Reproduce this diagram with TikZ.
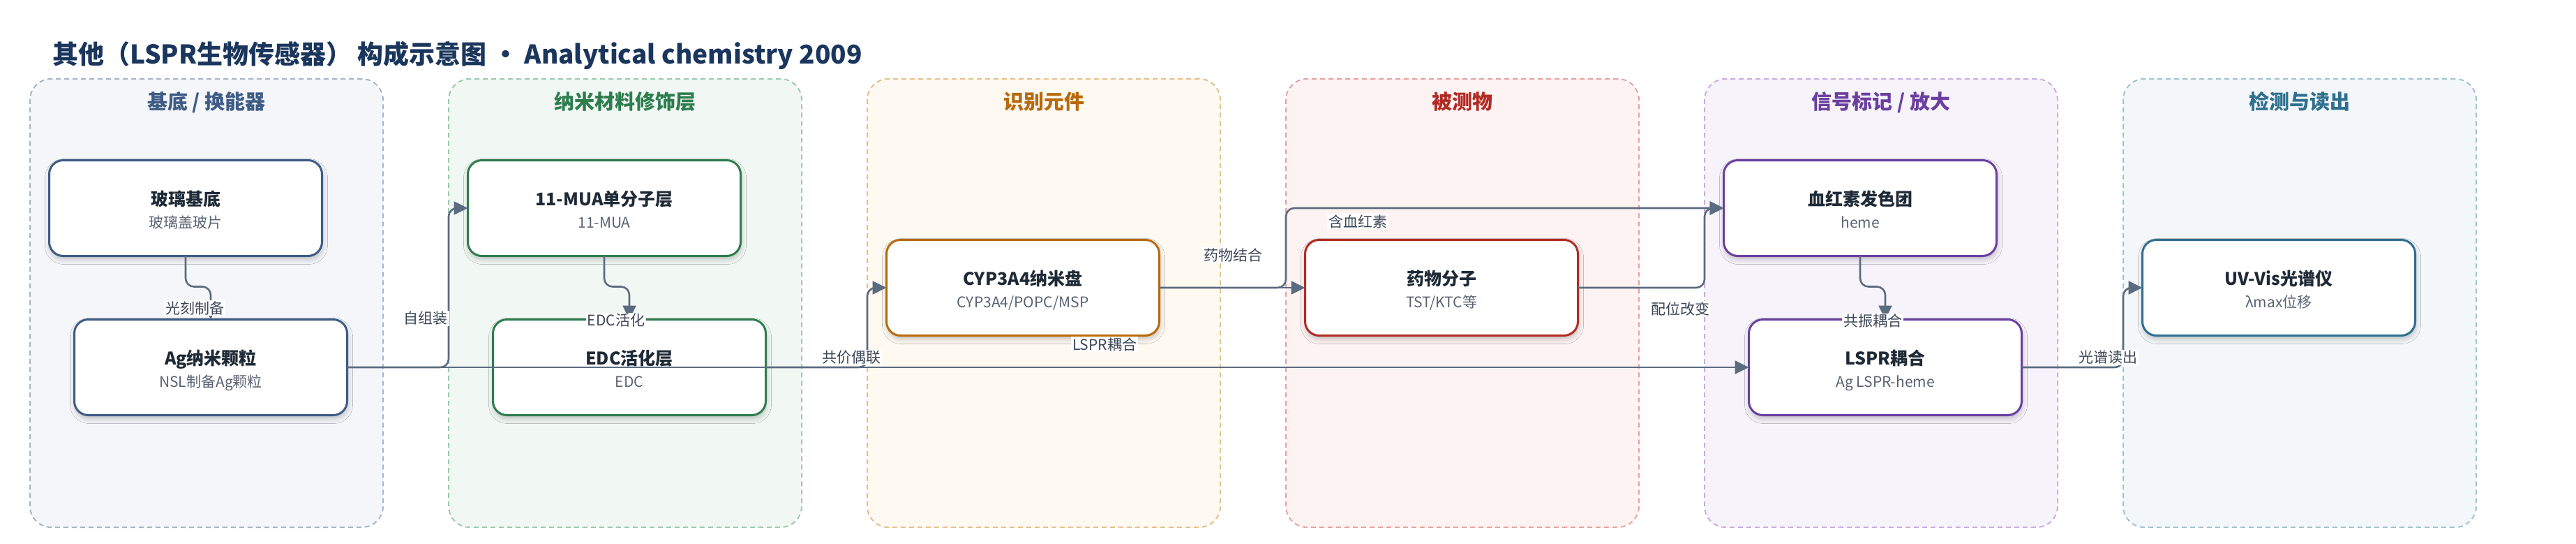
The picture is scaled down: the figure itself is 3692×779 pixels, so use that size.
\documentclass[tikz,border=0pt]{standalone}
\usepackage{fontspec}
\setmainfont{Noto Sans CJK SC}
\usetikzlibrary{arrows.meta,shadows.blur,calc}

\definecolor{titlec}{HTML}{1B365D}
\definecolor{edgec}{HTML}{5B6B80}
\definecolor{labc}{HTML}{3C4656}
\definecolor{nttl}{HTML}{1F2A37}
\definecolor{nsubc}{HTML}{5A6272}
% column colours: border, dashed, fill
\definecolor{bA}{HTML}{3E5C85}\definecolor{dA}{HTML}{A8B5C8}\definecolor{fA}{HTML}{F4F6FA}
\definecolor{bB}{HTML}{2E7D4F}\definecolor{dB}{HTML}{9CCBAE}\definecolor{fB}{HTML}{F1F8F3}
\definecolor{bC}{HTML}{B8690A}\definecolor{dC}{HTML}{E6C08C}\definecolor{fC}{HTML}{FEF9F1}
\definecolor{bD}{HTML}{B32A24}\definecolor{dD}{HTML}{E8A2A2}\definecolor{fD}{HTML}{FDF3F2}
\definecolor{bE}{HTML}{6A3FA0}\definecolor{dE}{HTML}{C9AEE3}\definecolor{fE}{HTML}{F7F3FB}
\definecolor{bF}{HTML}{2F6F8F}\definecolor{dF}{HTML}{A3C3D1}\definecolor{fF}{HTML}{F3F7F9}

\tikzset{
  colbox/.style 2 args={draw=#1, fill=#2, line width=2pt, dash pattern=on 7pt off 5pt,
    rounded corners=30pt, minimum width=506pt, minimum height=642pt,
    inner sep=0pt, outer sep=0pt},
  coltitle/.style={font=\fontsize{29}{34}\selectfont\bfseries, text=#1, inner sep=0pt, anchor=base},
  nbox/.style={draw=#1, fill=white, line width=3pt, rounded corners=20pt,
    minimum width=391pt, minimum height=137pt, inner sep=0pt, outer sep=0pt,
    blur shadow={shadow xshift=1pt, shadow yshift=-5pt, shadow blur radius=7pt, shadow opacity=22}},
  ntitle/.style={font=\fontsize{25}{30}\selectfont\bfseries, text=nttl, inner sep=0pt},
  nsub/.style={font=\fontsize{21}{25}\selectfont, text=nsubc, inner sep=0pt},
  conn/.style={draw=edgec, line width=2.6pt, rounded corners=12pt,
    -{Triangle[length=20pt,width=19pt]}},
  elab/.style={fill=white, text=labc, font=\fontsize{21}{24}\selectfont,
    inner xsep=2pt, inner ysep=1.5pt},
}

\newcommand\mybox[6]{%
  \node[nbox=#4] (#1) at (#2,#3) {};
  \node[ntitle, anchor=base] (#1-t) at (#2,#3-4) {#5};
  \node[nsub, anchor=base] (#1-s) at (#2,#3+28.5) {#6};
}

\begin{document}
\begin{tikzpicture}[x=1pt,y=-1pt]
\useasboundingbox (0,0) rectangle (3692,779);
\fill[white] (0,0) rectangle (3692,779);

% main title
\node[anchor=base west, inner sep=0pt, text=titlec, font=\fontsize{37}{44}\selectfont\bfseries]
  (title) at (75,91.5) {其他（LSPR生物传感器） 构成示意图 · Analytical chemistry 2009};

% columns
\node[colbox={dA}{fA}] (col1) at (296,434) {};
\node[colbox={dB}{fB}] (col2) at (896,434) {};
\node[colbox={dC}{fC}] (col3) at (1496,434) {};
\node[colbox={dD}{fD}] (col4) at (2096,434) {};
\node[colbox={dE}{fE}] (col5) at (2696,434) {};
\node[colbox={dF}{fF}] (col6) at (3296,434) {};

\node[coltitle=bA] (col1t) at (296,156.5) {基底 / 换能器};
\node[coltitle=bB] (col2t) at (896,156.5) {纳米材料修饰层};
\node[coltitle=bC] (col3t) at (1496,156.5) {识别元件};
\node[coltitle=bD] (col4t) at (2096,156.5) {被测物};
\node[coltitle=bE] (col5t) at (2696,156.5) {信号标记 / 放大};
\node[coltitle=bF] (col6t) at (3296,156.5) {检测与读出};

% nodes
\mybox{glass}{266}{298}{bA}{玻璃基底}{玻璃盖玻片}
\mybox{ag}{302}{526}{bA}{Ag纳米颗粒}{NSL制备Ag颗粒}
\mybox{mua}{866}{298}{bB}{11-MUA单分子层}{11-MUA}
\mybox{edc}{902}{526}{bB}{EDC活化层}{EDC}
\mybox{cyp}{1466}{412}{bC}{CYP3A4纳米盘}{CYP3A4/POPC/MSP}
\mybox{drug}{2066}{412}{bD}{药物分子}{TST/KTC等}
\mybox{heme}{2666}{298}{bE}{血红素发色团}{heme}
\mybox{lspr}{2702}{526}{bE}{LSPR耦合}{Ag LSPR-heme}
\mybox{uv}{3266}{412}{bF}{UV-Vis光谱仪}{λmax位移}

% connectors
\draw[conn] (glass.south) -- ++(0,44) -| (ag.north);
\draw[conn] (ag.east) -- (col2.west |- ag.east) |- (mua.west);
\draw[conn] (mua.south) -- ++(0,44) -| (edc.north);
\draw[conn] (edc.east) -- (col3.west |- edc.east) |- (cyp.west);
\draw[conn] (ag.east) -- (lspr.west);
\draw[conn] (cyp.east) -- (drug.west);
\draw[conn] (cyp.east) -- (col4.west |- cyp.east) |- (heme.west);
\draw[conn] (drug.east) -- (col5.west |- drug.east) |- (heme.west);
\draw[conn] (heme.south) -- ++(0,44) -| (lspr.north);
\draw[conn] (lspr.east) -- (col6.west |- lspr.east) |- (uv.west);

% connector labels
\node[elab] (l1) at (279,441) {光刻制备};
\node[elab] (l2) at (610,456) {自组装};
\node[elab] (l3) at (883,459) {EDC活化};
\node[elab] (l4) at (1220,512) {共价偶联};
\node[elab] (l5) at (1583,493) {LSPR耦合};
\node[elab] (l6) at (1767,365) {药物结合};
\node[elab] (l7) at (1946,317) {含血红素};
\node[elab] (l8) at (2408,442) {配位改变};
\node[elab] (l9) at (2684,460) {共振耦合};
\node[elab] (l10) at (3021,512) {光谱读出};
\end{tikzpicture}
\end{document}
